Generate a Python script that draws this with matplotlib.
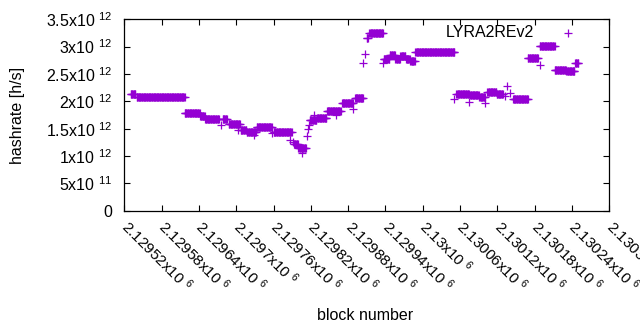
import numpy as np
import matplotlib
matplotlib.use('Agg')
from matplotlib import pyplot as plt

plt.rcParams['font.family'] = 'Liberation Sans'
plt.rcParams['mathtext.fontset'] = 'custom'
plt.rcParams['mathtext.rm'] = 'Liberation Sans'
plt.rcParams['mathtext.it'] = 'Liberation Sans'

# runs of blocks sharing the same hashrate estimate (first block, last block, value)
run_start = [2129530, 2129540, 2129617, 2129642, 2129650, 2129679, 2129688, 2129707,
             2129717, 2129733, 2129760, 2129793, 2129800, 2129818, 2129830, 2129846,
             2129870, 2129891, 2129910, 2129914, 2129937, 2129947, 2129956, 2129964,
             2129973, 2129980, 2129988, 2130054, 2130076, 2130091, 2130104, 2130119,
             2130145, 2130169, 2130188, 2130212, 2130231, 2130245]
run_end = [2129538, 2129617, 2129641, 2129649, 2129672, 2129685, 2129706, 2129716,
           2129732, 2129757, 2129789, 2129799, 2129812, 2129829, 2129845, 2129868,
           2129888, 2129904, 2129912, 2129936, 2129946, 2129955, 2129963, 2129972,
           2129979, 2129987, 2130051, 2130074, 2130090, 2130100, 2130118, 2130129,
           2130169, 2130185, 2130212, 2130230, 2130244, 2130250]
run_value = [2.135e12, 2.075e12, 1.782e12, 1.73e12, 1.674e12, 1.683e12, 1.583e12, 1.475e12,
             1.445e12, 1.526e12, 1.436e12, 1.22e12, 1.147e12, 1.66e12, 1.687e12, 1.83e12,
             1.975e12, 2.06e12, 3.15e12, 3.256e12, 2.775e12, 2.84e12, 2.765e12, 2.82e12,
             2.77e12, 2.73e12, 2.9e12, 2.14e12, 2.117e12, 2.08e12, 2.177e12, 2.135e12,
             2.05e12, 2.788e12, 3.01e12, 2.574e12, 2.547e12, 2.708e12]

# single blocks off their run
out_block = [2129675, 2129678, 2129703, 2129728, 2129757, 2129786, 2129791, 2129806,
             2129814, 2129816, 2129817, 2129825, 2129861, 2129888, 2129904, 2129907,
             2129936, 2130051, 2130074, 2130100, 2130132, 2130136, 2130141, 2130189]
out_value = [1.567e12, 1.678e12, 1.48e12, 1.385e12, 1.42e12, 1.29e12, 1.255e12, 1.05e12,
             1.366e12, 1.49e12, 1.568e12, 1.75e12, 1.75e12, 1.86e12, 2.697e12, 2.86e12,
             2.697e12, 2.04e12, 1.98e12, 1.976e12, 2.1e12, 2.287e12, 2.16e12, 2.666e12]

xTicks = np.arange(2129520, 2130301, 60)
xLabels = ['2.12952', '2.12958', '2.12964', '2.1297', '2.12976', '2.12982', '2.12988',
           '2.12994', '2.13', '2.13006', '2.13012', '2.13018', '2.13024', '2.1303']
yTicks = np.arange(0, 3.51e12, 0.5e12)
yLabels = ['0', '5x10 $^{11}$', '1x10 $^{12}$', '1.5x10 $^{12}$', '2x10 $^{12}$',
           '2.5x10 $^{12}$', '3x10 $^{12}$', '3.5x10 $^{12}$']

blocks = []
hashrate = []
for s, e, v in zip(run_start, run_end, run_value):
    for b in range(s, e + 1):
        blocks.append(b)
        hashrate.append(v)
blocks += out_block
hashrate += out_value

purple = '#9400D3'

fig = plt.figure(figsize=(6.4, 3.3), dpi=100)
ax = fig.add_axes([124.3/640, 1 - 210.7/330, 485/640, 191.4/330])
ax.plot(blocks, hashrate, '+', color=purple, markersize=6, markeredgewidth=0.9,
        antialiased=False)
ax.set_xlim(2129520, 2130300)
ax.set_ylim(0, 3.5e12)

ax.set_xticks(xTicks)
ax.set_xticklabels([l + 'x10 $^{6}$' for l in xLabels], rotation=-45, ha='left', va='center',
                   rotation_mode='anchor', fontsize=11)
ax.set_yticks(yTicks)
ax.set_yticklabels(yLabels, fontsize=11.5)
ax.tick_params(direction='in', top=True, right=True, length=4, width=0.8)
ax.tick_params(axis='y', pad=8.5)
ax.tick_params(axis='x', pad=9)
for sp in ax.spines.values():
    sp.set_linewidth(0.9)

ax.set_ylabel('hashrate [h/s]', fontsize=11.5)
ax.yaxis.set_label_coords(-0.205, 0.5)
fig.text(365/640, 1 - 315/330, 'block number', ha='center', va='center', fontsize=11.5)

# key, gnuplot style: title right-aligned then the sample point
ax.text(0.845, 0.93, 'LYRA2REv2', transform=ax.transAxes, ha='right', va='center', fontsize=11.5)
ax.plot([0.915], [0.93], '+', color=purple, markersize=6, markeredgewidth=0.9,
        antialiased=False, transform=ax.transAxes, clip_on=False)

fig.savefig('out.png', dpi=100)
